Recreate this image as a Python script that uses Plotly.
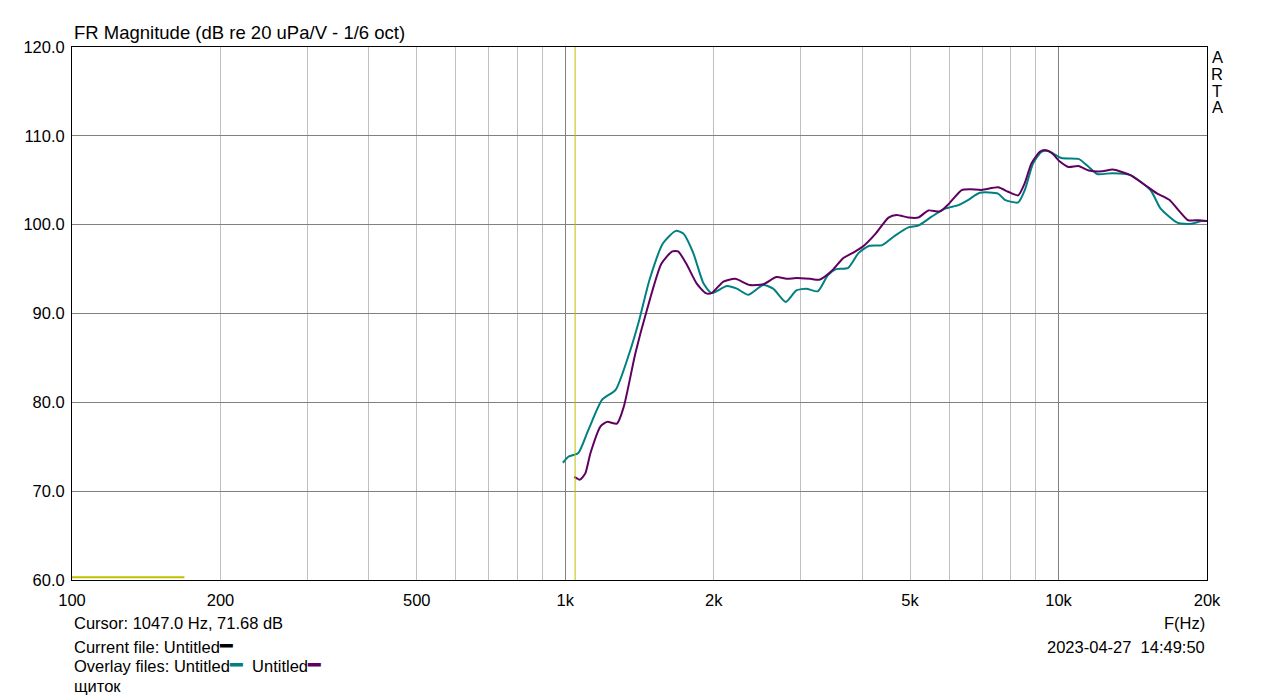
import math
import plotly.graph_objects as go

# ---------------- data ----------------
teal_freq = [989, 1016, 1063, 1114, 1188, 1265, 1348, 1413, 1482, 1578, 1676, 1735, 1818, 1906, 1981,
             2126, 2228, 2350, 2520, 2639, 2800, 2941, 3081, 3251, 3406, 3541, 3740, 3931, 4123, 4391,
             4671, 4961, 5197, 5531, 5888, 6269, 6566, 6927, 7543, 7784, 8283, 8544, 8882, 9233, 9528,
             10143, 10979, 11516, 11974, 12874, 13955, 15360, 16110, 17452, 18611, 19516, 20150]
teal_db = [73.2, 73.9, 74.3, 76.9, 80.3, 81.4, 85.5, 89.3, 93.8, 97.9, 99.3, 99.0, 96.8, 93.4, 92.3,
           93.1, 92.8, 92.1, 93.2, 92.8, 91.3, 92.6, 92.8, 92.5, 94.3, 95.0, 95.1, 96.8, 97.6, 97.7,
           98.8, 99.7, 99.9, 100.9, 101.8, 102.2, 102.8, 103.6, 103.5, 102.8, 102.5, 103.9, 106.9, 108.2, 108.3,
           107.5, 107.4, 106.5, 105.7, 105.8, 105.6, 103.9, 101.8, 100.2, 100.1, 100.4, 100.4]

purple_freq = [1043, 1071, 1098, 1125, 1179, 1216, 1273, 1314, 1387, 1464, 1566, 1648, 1693, 1760, 1846,
               1926, 1981, 2092, 2211, 2367, 2520, 2680, 2810, 2941, 3137, 3274, 3485, 3654, 3820, 4004,
               4259, 4522, 4697, 4961, 5197, 5447, 5751, 5982, 6364, 6614, 6980, 7543, 7904, 8283, 8544,
               8813, 9165, 9381, 9677, 10065, 10467, 10979, 11516, 12274, 12874, 13955, 15119, 15858, 16772,
               17592, 18313, 19209, 20150]
purple_db = [71.6, 71.3, 72.0, 74.3, 77.3, 77.8, 77.6, 79.5, 85.5, 90.4, 95.6, 97.0, 97.0, 95.6, 93.4,
             92.3, 92.3, 93.6, 93.9, 93.2, 93.3, 94.1, 93.9, 94.0, 93.9, 93.8, 94.9, 96.2, 96.8, 97.5,
             99.0, 100.8, 101.1, 100.8, 100.8, 101.6, 101.5, 102.3, 103.9, 104.0, 103.9, 104.2, 103.7, 103.3, 104.7,
             106.9, 108.2, 108.4, 108.1, 107.1, 106.5, 106.6, 106.1, 106.0, 106.2, 105.6, 104.3, 103.5, 102.8,
             101.5, 100.5, 100.5, 100.4]

yellow_freq = [100, 169]
yellow_db = [60.3, 60.3]

cursor_freq = 1047.0
cursor_db = 71.68

x_tick_vals = [100, 200, 500, 1000, 2000, 5000, 10000, 20000]
x_tick_text = ["100", "200", "500", "1k", "2k", "5k", "10k", "20k"]
x_minor_vals = [m * d for d in (100, 1000) for m in range(2, 10)]
x_decade_vals = [100, 1000, 10000]
y_range = [60, 120]

# ---------------- figure ----------------
FONT = "Liberation Sans, Arial, sans-serif"
TEAL = "#008080"
PURPLE = "#600060"
YELLOW = "#c0c000"

fig = go.Figure()
fig.add_trace(go.Scatter(x=yellow_freq, y=yellow_db, mode="lines",
                         line=dict(color=YELLOW, width=2), showlegend=False, hoverinfo="skip"))
fig.add_trace(go.Scatter(x=[cursor_freq, cursor_freq], y=y_range, mode="lines", xaxis="x2",
                         line=dict(color=YELLOW, width=1), showlegend=False, hoverinfo="skip"))
fig.add_trace(go.Scatter(x=teal_freq, y=teal_db, mode="lines",
                         line=dict(color=TEAL, width=2, shape="spline", smoothing=0.6), showlegend=False))
fig.add_trace(go.Scatter(x=purple_freq, y=purple_db, mode="lines",
                         line=dict(color=PURPLE, width=2, shape="spline", smoothing=0.6), showlegend=False))

xr = [math.log10(100), math.log10(20000)]

# page has an 8px body margin: figure is 8px smaller and margins shifted accordingly
fig.update_layout(
    width=1271, height=691,
    margin=dict(l=64, r=72, t=39, b=119),
    paper_bgcolor="white", plot_bgcolor="white",
    font=dict(family=FONT, size=16.5, color="black"),
    xaxis=dict(type="log", range=xr, tickvals=x_tick_vals, ticktext=x_tick_text,
               showgrid=False, zeroline=False, showline=True, linecolor="black", linewidth=1, mirror=True,
               ticks="", tickfont=dict(size=16.5), ticklabelstandoff=5,
               minor=dict(tickvals=x_minor_vals, showgrid=True, gridcolor="#c0c0c0", gridwidth=1, ticks="")),
    xaxis2=dict(type="log", range=xr, overlaying="x", tickvals=x_decade_vals, showticklabels=False,
                showgrid=True, gridcolor="#808080", gridwidth=1, zeroline=False, showline=False, ticks=""),
    yaxis=dict(range=y_range, dtick=10, tickformat=".1f", showgrid=True, gridcolor="#808080", gridwidth=1,
               zeroline=False, showline=True, linecolor="black", linewidth=1, mirror=True, ticks="",
               tickfont=dict(size=16.5), ticklabelstandoff=3),
)

H = 533.0
def py(ypx):
    return (580 - ypx) / H

def dash(color):
    return "<span style='color:%s;font-size:21px'>━</span>" % color

ann = []
ann.append(dict(text="FR Magnitude (dB re 20 uPa/V - 1/6 oct)", x=0, y=py(32), xanchor="left", yanchor="middle",
                font=dict(family=FONT, size=18.5, color="black")))
for i, ch in enumerate("ARTA"):
    ann.append(dict(text=ch, x=(1217 - 72) / 1135.0, y=py(57 + 16.8 * i), xanchor="center", yanchor="middle"))
ann.append(dict(text="Cursor: %.1f Hz, %.2f dB" % (cursor_freq, cursor_db), x=0, y=py(623), xanchor="left", yanchor="middle"))
ann.append(dict(text="Current file: Untitled" + dash("black"), x=0, y=py(645), xanchor="left", yanchor="middle"))
ann.append(dict(text="Overlay files: Untitled" + dash(TEAL) + "  Untitled" + dash(PURPLE),
                x=0, y=py(664), xanchor="left", yanchor="middle"))
ann.append(dict(text="щиток", x=0, y=py(686), xanchor="left", yanchor="middle"))
ann.append(dict(text="F(Hz)", x=1, y=py(623), xanchor="right", yanchor="middle"))
ann.append(dict(text="2023-04-27  14:49:50", x=1, y=py(647), xanchor="right", yanchor="middle"))

for a in ann:
    a.update(xref="paper", yref="paper", showarrow=False)
    if "font" not in a:
        a["font"] = dict(family=FONT, size=16.5, color="black")
fig.update_layout(annotations=ann)

fig.write_html("out.html")
